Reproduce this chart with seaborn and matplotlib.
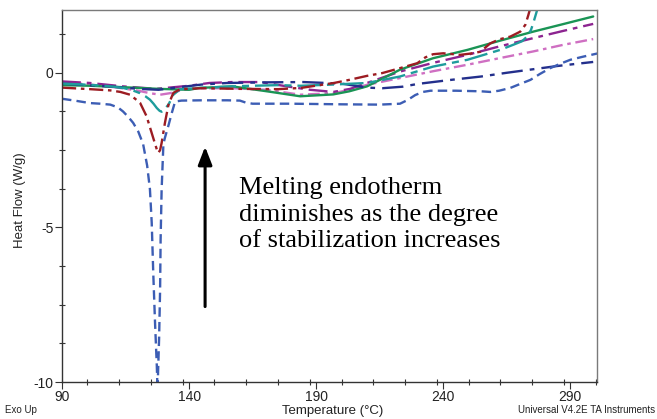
import matplotlib
matplotlib.use("Agg")
import matplotlib.pyplot as plt
import seaborn as sns
from matplotlib.ticker import MultipleLocator, FixedLocator

sns.set_theme(style="white")
plt.rcParams['font.family'] = ['Liberation Sans Narrow', 'Liberation Sans', 'DejaVu Sans']
plt.rcParams['axes.unicode_minus'] = False

# ---- data ----
x_ticks = [90, 140, 190, 240, 290]
y_ticks = [-10, -5, 0]

blue_x = [90, 95, 101, 105, 109, 112, 114, 116, 118, 120, 121.9, 123.5, 124.6, 125.3, 125.9, 126.6, 127.3, 127.6,
          127.8, 128.2, 128.6, 128.8, 129.2, 129.9, 130.5, 131.9, 133.2, 134.5, 137, 145, 155, 160, 162.5, 165, 180,
          200, 215, 223, 226, 229, 232, 235, 245, 255, 258.5, 262, 266.4, 270, 274.3, 278, 282.1, 286, 290, 295, 301]
blue_y = [-0.84, -0.9, -0.98, -1.0, -1.03, -1.12, -1.25, -1.42, -1.62, -1.9, -2.3, -3.0, -3.77, -4.85, -6.46, -8.07,
          -9.47, -10.3, -9.68, -8.6, -7.0, -5.39, -3.77, -2.3, -2.1, -1.7, -1.3, -0.93, -0.9, -0.89, -0.89, -0.9,
          -0.97, -1.0, -1.0, -1.02, -1.03, -1.0, -0.88, -0.72, -0.62, -0.58, -0.58, -0.6, -0.62, -0.58, -0.49, -0.37,
          -0.23, -0.04, 0.15, 0.29, 0.42, 0.52, 0.63]

navy_x = [90, 100, 110, 120, 128, 135, 145, 155, 170, 185, 200, 210, 216, 224, 230, 243, 255, 265, 275, 285, 299]
navy_y = [-0.35, -0.4, -0.45, -0.52, -0.55, -0.48, -0.38, -0.33, -0.31, -0.3, -0.35, -0.48, -0.5, -0.45, -0.36,
          -0.23, -0.12, 0.0, 0.11, 0.22, 0.35]

red_x = [90, 101, 109, 113, 116.8, 120.7, 123.3, 125.3, 127.3, 127.9, 128.6, 129.2, 130.5, 131.9, 133.8, 136.5,
         145, 160, 175, 184, 197, 203, 210, 216, 223, 229.8, 233, 236, 240, 246.7, 250.6, 254.6, 258.5, 262,
         266.4, 270.3, 272.3, 273.5, 274.6]
red_y = [-0.48, -0.53, -0.57, -0.62, -0.71, -0.97, -1.41, -1.95, -2.48, -2.59, -2.5, -2.27, -1.62, -1.03, -0.65,
         -0.53, -0.5, -0.52, -0.53, -0.49, -0.33, -0.23, -0.1, -0.01, 0.15, 0.31, 0.5, 0.6, 0.63, 0.58, 0.62, 0.68,
         0.95, 1.08, 1.17, 1.33, 1.55, 1.87, 2.2]

teal_x = [90, 101, 108, 114, 117.5, 120.7, 122.8, 124.6, 126, 127.3, 128.4, 129.2, 130.5, 131.9, 133.8, 136.5,
          144.3, 160, 175, 184, 197, 210, 223, 236, 249.5, 256, 262.4, 268, 271, 273, 274.5, 275.4, 276.3, 277.2]
teal_y = [-0.35, -0.39, -0.43, -0.49, -0.56, -0.66, -0.76, -0.87, -1.0, -1.14, -1.23, -1.26, -1.16, -1.03, -0.71,
          -0.53, -0.49, -0.43, -0.4, -0.42, -0.38, -0.33, -0.12, 0.2, 0.42, 0.58, 0.74, 0.92, 1.02, 1.17, 1.38,
          1.6, 1.85, 2.1]

green_x = [90, 101, 115, 128, 140, 144, 157, 170.7, 183.7, 196.7, 203, 210, 223, 236, 249.5, 262, 275.4, 287, 299]
green_y = [-0.4, -0.42, -0.47, -0.52, -0.55, -0.49, -0.44, -0.6, -0.76, -0.7, -0.6, -0.44, 0.1, 0.47, 0.74, 1.03,
           1.33, 1.57, 1.82]

purple_x = [90, 101, 114, 127, 140, 148, 157, 168, 178.5, 187.6, 196.7, 203.4, 210, 223, 236, 249.5, 262, 275.4,
            287, 299]
purple_y = [-0.28, -0.33, -0.44, -0.52, -0.42, -0.33, -0.3, -0.3, -0.44, -0.55, -0.62, -0.52, -0.33, 0.04, 0.32,
            0.58, 0.85, 1.12, 1.35, 1.58]

orchid_x = [90, 101, 112, 120, 124.6, 128.6, 132.5, 137.6, 145, 157, 170.7, 183.7, 196.7, 203.4, 210, 223, 236,
            249.5, 262, 275.4, 287, 299]
orchid_y = [-0.3, -0.38, -0.48, -0.58, -0.66, -0.71, -0.66, -0.55, -0.5, -0.5, -0.55, -0.71, -0.66, -0.55, -0.39,
            -0.17, 0.05, 0.26, 0.47, 0.69, 0.9, 1.09]

series = [
    (orchid_x, orchid_y, "#cf6fc2", (0, (5, 2, 1.5, 2))),
    (purple_x, purple_y, "#8c2490", (0, (8, 2.5, 2, 2.5))),
    (green_x, green_y, "#1a9455", "-"),
    (navy_x, navy_y, "#232f8c", (0, (9, 3, 2, 3))),
    (teal_x, teal_y, "#1e9c9c", (0, (10, 2.5, 3, 2.5))),
    (red_x, red_y, "#9c1c22", (0, (6, 2, 1.5, 2))),
    (blue_x, blue_y, "#3c5db4", (0, (4, 2.2))),
]

fig = plt.figure(figsize=(6.57, 4.19), dpi=100)
ax = fig.add_axes([62 / 657, 37 / 419, 535 / 657, 372 / 419])

for xs, ys, col, ls in series:
    sns.lineplot(x=xs, y=ys, ax=ax, color=col, linestyle=ls, linewidth=1.7, sort=False)

ax.set_xlim(90, 300.5)
ax.set_ylim(-10, 2.03)
ax.xaxis.set_major_locator(FixedLocator(x_ticks))
ax.xaxis.set_minor_locator(MultipleLocator(12.5))
ax.yaxis.set_major_locator(FixedLocator(y_ticks))
ax.yaxis.set_minor_locator(MultipleLocator(1.25))
ax.set_xticklabels([str(v) for v in x_ticks])
ax.set_yticklabels([str(v) for v in y_ticks])
ax.tick_params(which="major", direction="out", length=5, width=0.8, color="#333333",
               labelsize=10, pad=1, labelcolor="#222222")
ax.tick_params(which="minor", direction="inout", length=5, width=0.8, color="#333333")
ax.tick_params(axis="both", which="both", bottom=True, left=True)
for s in ["left", "bottom"]:
    ax.spines[s].set_color("#333333")
    ax.spines[s].set_linewidth(1.0)
for s in ["top", "right"]:
    ax.spines[s].set_color("#7a7a7a")
    ax.spines[s].set_linewidth(1.0)

ax.set_xlabel("Temperature (°C)", fontsize=9.5, color="#222222")
ax.set_ylabel("Heat Flow (W/g)", fontsize=9.5, color="#222222")
ax.xaxis.set_label_coords((333 - 62) / 535, (382 - 411) / 372)
ax.yaxis.set_label_coords((20 - 62) / 535, 0.49)
ax.xaxis.label.set_va("center")
ax.yaxis.label.set_va("center")

fig.text(5 / 657, 1 - 410 / 419, "Exo Up", fontsize=7, color="#222222", va="center", ha="left")
fig.text(655 / 657, 1 - 410 / 419, "Universal V4.2E TA Instruments", fontsize=7, color="#222222",
         va="center", ha="right")

ax.annotate("", xy=(146.3, -2.3), xytext=(146.3, -7.65),
            arrowprops=dict(arrowstyle="-|>,head_length=0.9,head_width=0.35", color="black", lw=2.2))
ax.text(239 / 657, 1 - 177 / 419, "Melting endotherm\ndiminishes as the degree\nof stabilization increases",
        transform=fig.transFigure, fontsize=19, family=["Liberation Serif"], color="black",
        va="top", ha="left", linespacing=1.27)

fig.savefig("out.png", dpi=100)
